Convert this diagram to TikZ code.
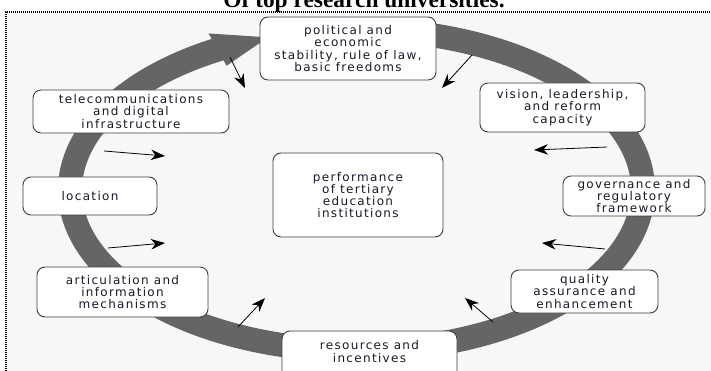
\documentclass[tikz,border=0pt]{standalone}
\usepackage{fontspec}
\newfontfamily\boxfont[LetterSpace=11]{DejaVu Sans}
\newfontfamily\titlefont{Liberation Serif}
\usetikzlibrary{arrows.meta}
\definecolor{ringgray}{RGB}{99,101,102}
\definecolor{bggray}{RGB}{247,247,247}
\definecolor{boxline}{RGB}{60,60,60}
\definecolor{txtcol}{RGB}{25,25,40}
\tikzset{
  box/.style={draw=boxline, line width=0.9pt, rounded corners=8pt, fill=white, align=center, inner sep=0pt,
    font=\boxfont\fontsize{12}{12.2}\selectfont, text=txtcol},
  lbl/.style={align=center, inner sep=0pt, font=\boxfont\fontsize{12}{12.2}\selectfont, text=txtcol},
  ptr/.style={draw=black, line width=0.8pt, -{Stealth[length=14pt,width=10.5pt,inset=4.5pt]}},
  ring/.style={draw=ringgray, line width=24pt},
  frame/.style={draw=black, line width=1.6pt, dash pattern=on 1pt off 1pt},
}
\begin{document}
\begin{tikzpicture}[x=1pt,y=-1pt]
\useasboundingbox (0,0) rectangle (711,371);
\fill[white] (0,0) rectangle (711,371);
\fill[bggray] (6,12) rectangle (711,371);
\draw[frame] (6,371) -- (6,12) -- (711,12);
% title (cut by the top edge, as in the reference)
\node[anchor=base, inner sep=0pt, font=\titlefont\bfseries\fontsize{23.4}{26}\selectfont] (title) at (364,7.5) {Of top research universities.};
% ring
\coordinate (c) at (356.5,190);
\draw[ring] (c) ++(80:286.5pt and 160.5pt) arc[start angle=80, end angle=-242, x radius=286.5pt, y radius=160.5pt];
\path (c) ++(119:305pt and 179pt) coordinate (hu);
\path (c) ++(119:268pt and 142pt) coordinate (hl);
\path (c) ++(108:286.5pt and 160.5pt) coordinate (ht);
\fill[ringgray] (hu) -- (ht) -- (hl) -- cycle;
% boxes
\node[box, minimum width=176pt, minimum height=63pt] (pol) at (348,48.5) {political and\\economic\\stability, rule of law,\\basic freedoms};
\node[box, minimum width=165pt, minimum height=49pt] (vis) at (562.5,107.5) {vision, leadership,\\and reform\\capacity};
\node[box, minimum width=142pt, minimum height=40pt] (gov) at (634,196) {governance and\\regulatory\\framework};
\node[box, minimum width=147pt, minimum height=43pt] (qua) at (584.5,291.5) {quality\\assurance and\\enhancement};
\node[box, minimum width=175pt, minimum height=56pt] (res) at (369.5,359) {};
\node[lbl] (restxt) at (369.5,351.5) {resources and\\incentives};
\node[box, minimum width=171pt, minimum height=50pt] (art) at (122.5,292) {articulation and\\information\\mechanisms};
\node[box, minimum width=134pt, minimum height=38pt] (loc) at (90,196) {location};
\node[box, minimum width=196pt, minimum height=43pt] (tel) at (131,111.5) {telecommunications\\and digital\\infrastructure};
\node[box, minimum width=170pt, minimum height=84pt] (perf) at (358,195) {performance\\of tertiary\\education\\institutions};
% arrows
\coordinate (a1s) at (230,57);  \coordinate (a1e) at (245,88);
\coordinate (a2s) at (472,55);  \coordinate (a2e) at (442,88);
\coordinate (a3s) at (607,147); \coordinate (a3e) at (534,150);
\coordinate (a4s) at (605,249); \coordinate (a4e) at (542,243);
\coordinate (a5s) at (493,322); \coordinate (a5e) at (465,298);
\coordinate (a6s) at (238,327); \coordinate (a6e) at (265,298);
\coordinate (a7s) at (108,248); \coordinate (a7e) at (165,243);
\coordinate (a8s) at (104,151); \coordinate (a8e) at (165,156);
\draw[ptr] (a1s) -- (a1e);
\draw[ptr] (a2s) -- (a2e);
\draw[ptr] (a3s) -- (a3e);
\draw[ptr] (a4s) -- (a4e);
\draw[ptr] (a5s) -- (a5e);
\draw[ptr] (a6s) -- (a6e);
\draw[ptr] (a7s) -- (a7e);
\draw[ptr] (a8s) -- (a8e);
\end{tikzpicture}
\end{document}
